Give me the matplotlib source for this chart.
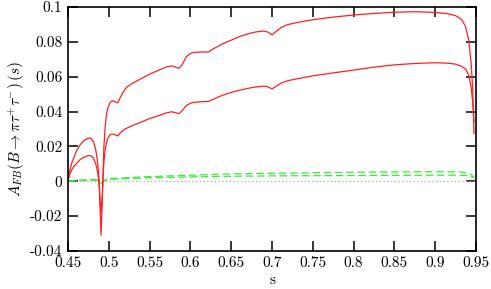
import numpy as np
import matplotlib
matplotlib.use("Agg")
import matplotlib.pyplot as plt

# ---------------------------------------------------------------------
# values
# ---------------------------------------------------------------------
s_red = [0.450, 0.452, 0.455, 0.460, 0.465, 0.470, 0.475, 0.478, 0.481, 0.484,
         0.486, 0.488, 0.489, 0.4905, 0.492, 0.493, 0.494, 0.4955, 0.497, 0.499,
         0.502, 0.505, 0.508, 0.511, 0.514, 0.518, 0.522, 0.530, 0.540, 0.550,
         0.560, 0.570, 0.577, 0.582, 0.586, 0.590, 0.595, 0.600, 0.605, 0.615,
         0.622, 0.630, 0.640, 0.650, 0.660, 0.670, 0.680, 0.690, 0.695, 0.700,
         0.705, 0.712, 0.720, 0.735, 0.750, 0.775, 0.800, 0.825, 0.850, 0.875,
         0.900, 0.915, 0.925, 0.932, 0.937, 0.941, 0.944, 0.946, 0.9475]

afb_upper = [0.000, 0.006, 0.011, 0.017, 0.021, 0.0235, 0.0248, 0.0248, 0.023, 0.018,
             0.012, 0.002, -0.012, -0.031, -0.012, 0.005, 0.020, 0.031, 0.038, 0.0425,
             0.0455, 0.0463, 0.0455, 0.0450, 0.048, 0.0515, 0.054, 0.0565, 0.0590, 0.0615,
             0.0635, 0.0655, 0.0662, 0.0655, 0.0648, 0.0670, 0.0715, 0.0733, 0.0740, 0.0742,
             0.0742, 0.0765, 0.0790, 0.0810, 0.0830, 0.0845, 0.0857, 0.0862, 0.0856, 0.0840,
             0.0860, 0.0885, 0.0900, 0.0915, 0.0927, 0.0942, 0.0954, 0.0963, 0.0970, 0.0973,
             0.0969, 0.0962, 0.0950, 0.0930, 0.0890, 0.0810, 0.0680, 0.0520, 0.0275]

afb_lower = [0.000, 0.004, 0.007, 0.010, 0.0125, 0.014, 0.0147, 0.0146, 0.0135, 0.010,
             0.006, -0.001, -0.008, -0.0184, -0.008, 0.003, 0.011, 0.018, 0.022, 0.0250,
             0.0268, 0.0271, 0.0266, 0.0260, 0.0278, 0.0295, 0.0305, 0.0322, 0.0340, 0.0360,
             0.0375, 0.0392, 0.0399, 0.0393, 0.0388, 0.0405, 0.0435, 0.0448, 0.0454, 0.0457,
             0.0458, 0.0475, 0.0495, 0.0510, 0.0522, 0.0533, 0.0541, 0.0546, 0.0542, 0.0530,
             0.0545, 0.0565, 0.0578, 0.0592, 0.0605, 0.0622, 0.0638, 0.0655, 0.0668, 0.0676,
             0.0680, 0.0678, 0.0672, 0.0660, 0.0645, 0.0610, 0.0540, 0.0450, 0.0340]

s_green = [0.450, 0.460, 0.470, 0.480, 0.485, 0.488, 0.4905, 0.493, 0.497, 0.502,
           0.520, 0.550, 0.600, 0.650, 0.700, 0.750, 0.800, 0.850, 0.900, 0.930,
           0.940, 0.945, 0.9475]

sm_upper = [0.0000, 0.0005, 0.0008, 0.0010, 0.0008, 0.0000, -0.0012, 0.0000, 0.0012, 0.0016,
            0.0020, 0.0027, 0.0035, 0.0042, 0.0046, 0.0049, 0.0052, 0.0054, 0.0055, 0.0054,
            0.0048, 0.0035, 0.0018]

sm_lower = [0.0000, 0.0004, 0.0006, 0.0007, 0.0005, -0.0002, -0.0012, -0.0002, 0.0008, 0.0011,
            0.0015, 0.0020, 0.0025, 0.0029, 0.0031, 0.0032, 0.0033, 0.0034, 0.0035, 0.0035,
            0.0032, 0.0026, 0.0018]

xticks = [0.45, 0.5, 0.55, 0.6, 0.65, 0.7, 0.75, 0.8, 0.85, 0.9, 0.95]
xtick_labels = ["0.45", "0.5", "0.55", "0.6", "0.65", "0.7", "0.75", "0.8", "0.85", "0.9", "0.95"]
yticks = [-0.04, -0.02, 0.0, 0.02, 0.04, 0.06, 0.08, 0.1]
ytick_labels = ["-0.04", "-0.02", "0", "0.02", "0.04", "0.06", "0.08", "0.1"]

# ---------------------------------------------------------------------
# plot
# ---------------------------------------------------------------------
plt.rcParams["font.family"] = ["cmr10", "DejaVu Serif"]
plt.rcParams["mathtext.fontset"] = "cm"
plt.rcParams["axes.unicode_minus"] = False

fig = plt.figure(figsize=(4.91, 2.89), dpi=100)
ax = fig.add_axes([0.1385, 0.1315, 0.831, 0.8443])

ax.plot([0.45, 0.95], [0, 0], color="#aaaaaa", lw=0.9, ls=(0, (1, 2)))
ax.plot(s_green, sm_upper, color="#33ee33", lw=0.9, dashes=(6, 3))
ax.plot(s_green, sm_lower, color="#33ee33", lw=0.9, dashes=(6, 3))
ax.plot(s_red, afb_upper, color="#ff2020", lw=0.9)
ax.plot(s_red, afb_lower, color="#ff2020", lw=0.9)

ax.set_xlim(0.45, 0.95)
ax.set_ylim(-0.04, 0.1)
ax.set_xticks(xticks)
ax.set_xticklabels(xtick_labels)
ax.set_yticks(yticks)
ax.set_yticklabels(ytick_labels)
ax.tick_params(direction="in", length=7, width=1.1, top=True, right=True,
               labelsize=11, pad=4)
for sp in ax.spines.values():
    sp.set_linewidth(1.2)

ax.set_xlabel("s", fontsize=11, labelpad=2)
ax.set_ylabel(r"$A_{FB}(B\to\pi\tau^{+}\tau^{-})\,(s)$", fontsize=11, labelpad=2)

fig.savefig("out.png", dpi=100)
